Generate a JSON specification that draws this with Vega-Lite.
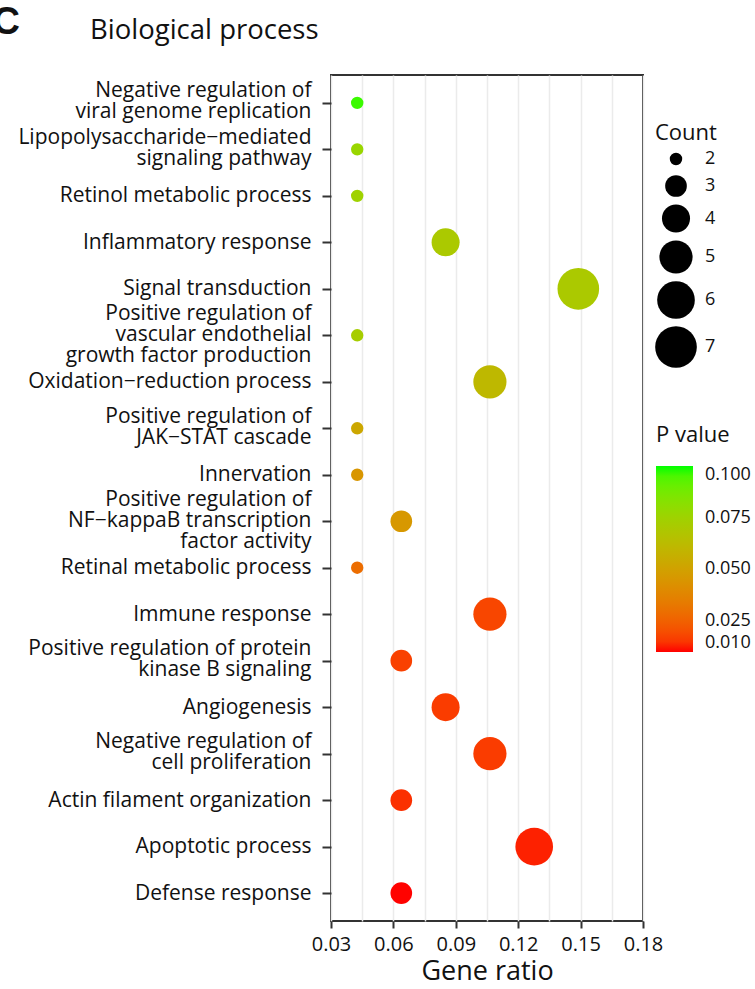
{
  "$schema": "https://vega.github.io/schema/vega-lite/v6.json",
  "autosize": "none",
  "padding": {"left": 331, "top": 75, "right": 112, "bottom": 68},
  "width": 312,
  "height": 846,
  "background": "white",
  "title": {
    "text": "Biological process",
    "anchor": "start",
    "frame": "group",
    "dx": -241,
    "dy": 41,
    "fontSize": 27.5,
    "fontWeight": "normal",
    "font": "Open Sans",
    "color": "#111111",
    "offset": 0
  },
  "config": {
    "font": "Open Sans",
    "view": {"stroke": "#333333", "strokeWidth": 2},
    "axis": {
      "gridColor": "#EBEBEB",
      "gridWidth": 1.5,
      "tickColor": "#333333",
      "tickWidth": 2,
      "domain": false,
      "labelColor": "#111111",
      "titleColor": "#111111",
      "labelFont": "Open Sans",
      "titleFont": "Open Sans"
    },
    "legend": {
      "titleFont": "Open Sans",
      "labelFont": "Open Sans",
      "titleColor": "#111111",
      "labelColor": "#111111",
      "titleFontWeight": "normal"
    }
  },
  "data": {
    "values": [
      {"term": "Negative regulation of|viral genome replication", "ratio": 0.0426, "count": 2, "p": 0.097},
      {"term": "Lipopolysaccharide−mediated|signaling pathway", "ratio": 0.0426, "count": 2, "p": 0.077},
      {"term": "Retinol metabolic process", "ratio": 0.0426, "count": 2, "p": 0.075},
      {"term": "Inflammatory response", "ratio": 0.0851, "count": 4, "p": 0.07},
      {"term": "Signal transduction", "ratio": 0.1489, "count": 7, "p": 0.07},
      {"term": "Positive regulation of |vascular endothelial |growth factor production", "ratio": 0.0426, "count": 2, "p": 0.072},
      {"term": "Oxidation−reduction process", "ratio": 0.1064, "count": 5, "p": 0.061},
      {"term": "Positive regulation of|JAK−STAT cascade", "ratio": 0.0426, "count": 2, "p": 0.053},
      {"term": "Innervation", "ratio": 0.0426, "count": 2, "p": 0.045},
      {"term": "Positive regulation of |NF−kappaB transcription|factor activity", "ratio": 0.0638, "count": 3, "p": 0.046},
      {"term": "Retinal metabolic process", "ratio": 0.0426, "count": 2, "p": 0.029},
      {"term": "Immune response", "ratio": 0.1064, "count": 5, "p": 0.018},
      {"term": "Positive regulation of protein|kinase B signaling", "ratio": 0.0638, "count": 3, "p": 0.017},
      {"term": "Angiogenesis", "ratio": 0.0851, "count": 4, "p": 0.016},
      {"term": "Negative regulation of|cell proliferation", "ratio": 0.1064, "count": 5, "p": 0.016},
      {"term": "Actin filament organization", "ratio": 0.0638, "count": 3, "p": 0.014},
      {"term": "Apoptotic process", "ratio": 0.1277, "count": 6, "p": 0.012},
      {"term": "Defense response", "ratio": 0.0638, "count": 3, "p": 0.0101}
    ]
  },
  "mark": {"type": "circle", "opacity": 1},
  "encoding": {
    "x": {
      "field": "ratio",
      "type": "quantitative",
      "scale": {"domain": [0.03, 0.18], "nice": false, "zero": false},
      "axis": {
        "title": "Gene ratio",
        "values": [0.03, 0.045, 0.06, 0.075, 0.09, 0.105, 0.12, 0.135, 0.15, 0.165, 0.18],
        "labelExpr": "round(datum.value*1000) % 30 == 0 ? format(datum.value, '.2f') : ''",
        "tickOpacity": {"condition": {"test": "round(datum.value*1000) % 30 == 0", "value": 1}, "value": 0},
        "tickSize": 7,
        "labelFontSize": 20,
        "labelPadding": 6,
        "titleFontSize": 27,
        "titleFontWeight": "normal",
        "titlePadding": 4,
        "labelFlush": false
      }
    },
    "y": {
      "field": "term",
      "type": "nominal",
      "sort": null,
      "scale": {"type": "point", "padding": 0.6},
      "axis": {
        "title": "C",
        "titleAngle": 0,
        "titleX": -339,
        "titleY": -42,
        "titleAlign": "left",
        "titleBaseline": "alphabetic",
        "titleFontSize": 38,
        "titleFontWeight": "bold",
        "titleFont": "Liberation Sans",
        "labelExpr": "split(datum.value, '|')",
        "labelOffset": {
          "condition": [
            {"test": "length(split(datum.value, '|')) == 3", "value": -22},
            {"test": "length(split(datum.value, '|')) == 2", "value": -12}
          ],
          "value": 0
        },
        "labelFontSize": 21,
        "labelLineHeight": 21,
        "labelPadding": 11,
        "tickSize": 9,
        "labelLimit": 400
      }
    },
    "size": {
      "field": "count",
      "type": "quantitative",
      "title": "Count",
      "scale": {"domain": [2, 7], "range": [154, 1735], "zero": false},
      "legend": {
        "orient": "none",
        "legendX": 324,
        "legendY": 48,
        "values": [2, 3, 4, 5, 6, 7],
        "symbolFillColor": "black",
        "symbolStrokeWidth": 0,
        "titleFontSize": 22,
        "labelFontSize": 18,
        "labelOffset": 8,
        "rowPadding": 7,
        "symbolOpacity": 1
      }
    },
    "color": {
      "field": "p",
      "type": "quantitative",
      "title": "P value",
      "scale": {"domain": [0.01, 0.1], "range": ["#FF0000", "#00FF00"], "interpolate": "lab"},
      "legend": {
        "orient": "none",
        "legendX": 325,
        "legendY": 350,
        "values": [0.01, 0.025, 0.05, 0.075, 0.1],
        "format": ".3f",
        "gradientLength": 186,
        "gradientThickness": 37,
        "gradientStrokeWidth": 0,
        "titleFontSize": 22,
        "labelFontSize": 18,
        "labelOffset": 12,
        "titlePadding": 19
      }
    }
  }
}
